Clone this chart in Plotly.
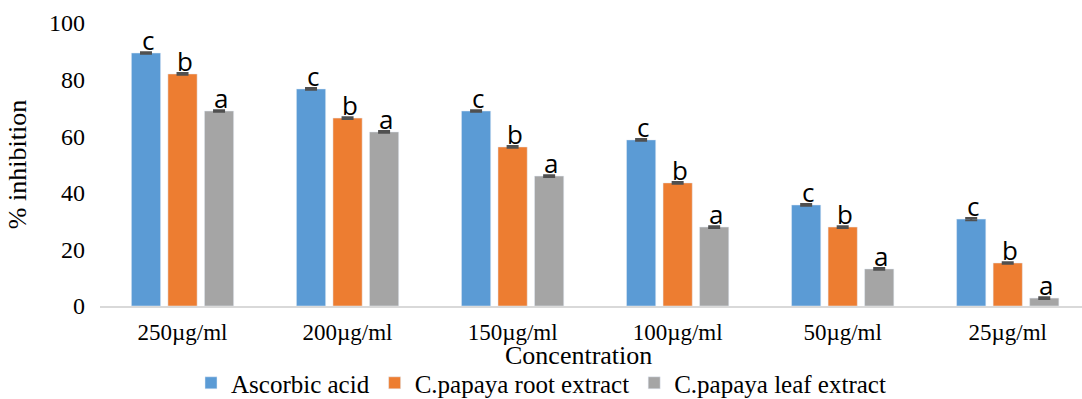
import plotly.graph_objects as go

categories = ["250µg/ml", "200µg/ml", "150µg/ml", "100µg/ml", "50µg/ml", "25µg/ml"]
ascorbic = [89.4, 76.7, 68.9, 58.7, 35.7, 30.7]
root = [82.0, 66.4, 56.2, 43.5, 27.9, 15.2]
leaf = [68.9, 61.5, 45.9, 27.9, 13.1, 2.8]
err_asc = [0.3, 0.3, 0.3, 0.3, 0.3, 0.4]
err_root = [0.3, 0.3, 0.3, 0.3, 0.3, 0.3]
err_leaf = [0.3, 0.3, 0.3, 0.3, 0.3, 0.3]
letters_asc = ["c"] * 6
letters_root = ["b"] * 6
letters_leaf = ["a"] * 6

series = [
    ("Ascorbic acid", ascorbic, err_asc, letters_asc, "#5B9BD5"),
    ("C.papaya root extract", root, err_root, letters_root, "#ED7D31"),
    ("C.papaya leaf extract", leaf, err_leaf, letters_leaf, "#A5A5A5"),
]
group_shift = [-36.5, 0, 36.5]

fig = go.Figure()
for k, (name, vals, errs, labs, col) in enumerate(series):
    fig.add_trace(go.Bar(
        name=name, x=categories, y=vals, marker_color=col,
        error_y=dict(type="data", array=errs, color="#505050", thickness=2, width=6),
    ))
    for cat, v, lab in zip(categories, vals, labs):
        fig.add_annotation(
            x=cat, y=v, text=lab, showarrow=False, xref="x", yref="y",
            xanchor="center", yanchor="bottom", xshift=group_shift[k] + 2, yshift=-7,
            font=dict(family="Open Sans", size=26, color="black"),
        )

fig.add_annotation(
    text="Concentration", xref="paper", yref="paper", x=0.487, y=-0.175,
    xanchor="center", yanchor="middle", showarrow=False,
    font=dict(family="Liberation Serif", size=26, color="black"),
)

fig.update_layout(
    width=1082, height=399,
    barmode="group", bargap=0.336, bargroupgap=0.2,
    plot_bgcolor="white", paper_bgcolor="white",
    margin=dict(l=100, r=0, t=23, b=93, autoexpand=False),
    font=dict(family="Liberation Serif", size=23, color="black"),
    xaxis=dict(
        range=[-0.5, 5.45], showline=True, linecolor="#D9D9D9", linewidth=2,
        ticks="", tickfont=dict(size=23), ticklabelstandoff=4,
    ),
    yaxis=dict(
        range=[0, 100], dtick=20, showgrid=False, zeroline=False, showline=False,
        tickfont=dict(size=24), ticks="", ticklabelstandoff=14,
        title=dict(text="% inhibition", font=dict(size=26), standoff=14),
    ),
    legend=dict(
        orientation="h", xref="container", yref="container",
        x=0.5, xanchor="center", y=0.04, yanchor="middle",
        font=dict(size=25), traceorder="normal",
    ),
)
fig.write_html("out.html", post_script="document.body.style.margin='0';",
               config={"displayModeBar": False})
